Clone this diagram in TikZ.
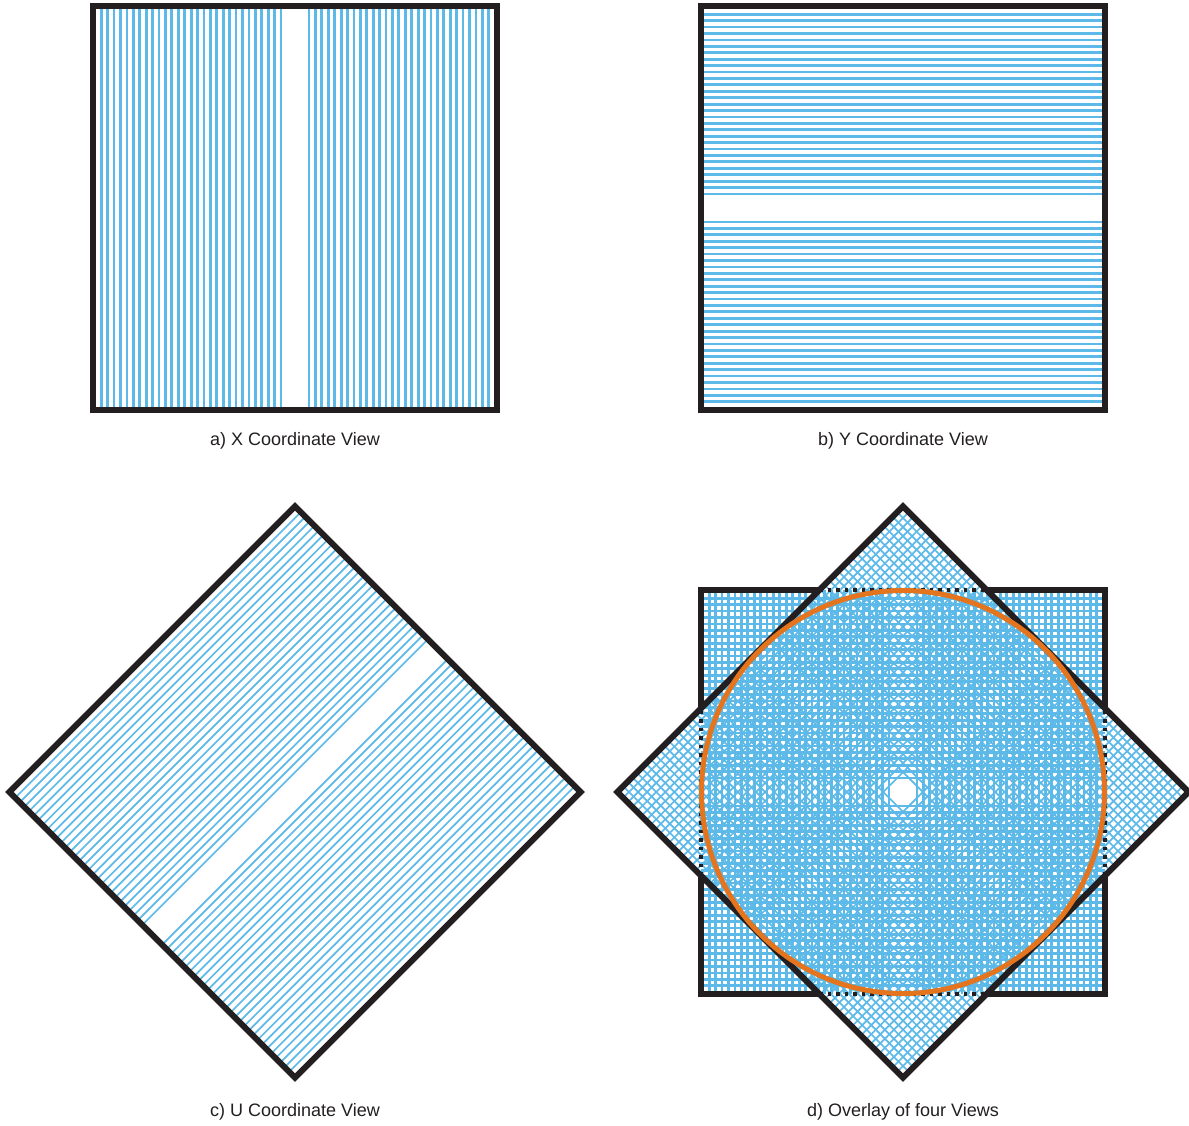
\documentclass[tikz,border=0pt]{standalone}
\usepackage{fontspec}
\setmainfont{Liberation Sans}
\definecolor{stripblue}{RGB}{92,185,232}
\definecolor{framedark}{RGB}{35,31,32}
\definecolor{ringorange}{RGB}{228,116,30}
\newcommand{\vstrips}[1]{%
  \foreach \k in {0,...,28}{%
    \pgfmathsetmacro\dd{14+6.42*\k}%
    \draw[#1] (\dd,-202) -- (\dd,202);
    \draw[#1] (-\dd,-202) -- (-\dd,202);
  }}
\newcommand{\hstrips}[1]{%
  \foreach \k in {0,...,28}{%
    \pgfmathsetmacro\dd{14+6.42*\k}%
    \draw[#1] (-202,\dd) -- (202,\dd);
    \draw[#1] (-202,-\dd) -- (202,-\dd);
  }}
\begin{document}
\begin{tikzpicture}[x=1pt,y=1pt,
  xstrip/.style={draw=stripblue,line width=2.8pt},
  ustrip/.style={draw=stripblue,line width=1.7pt},
  frame/.style={draw=framedark,line width=6pt},
  dotframe/.style={draw=framedark,line width=4pt,dash pattern=on 3.5pt off 5pt},
  ring/.style={draw=ringorange,line width=5pt},
  caption/.style={font=\fontsize{18}{20}\selectfont,text=framedark,inner sep=0pt}]
\useasboundingbox (0,0) rectangle (1189,-1126);
\fill[white] (0,0) rectangle (1189,-1126);

% a) X view
\begin{scope}[shift={(295,-208)}]
  \vstrips{xstrip}
  \draw[frame] (-202,-202) rectangle (202,202);
\end{scope}
\node[caption] (capA) at (295,-441) {a) X Coordinate View};

% b) Y view
\begin{scope}[shift={(903,-208)}]
  \hstrips{xstrip}
  \draw[frame] (-202,-202) rectangle (202,202);
\end{scope}
\node[caption] (capB) at (903,-441) {b) Y Coordinate View};

% c) U view
\begin{scope}[shift={(295,-792)},rotate=-45]
  \vstrips{ustrip}
  \draw[frame] (-202,-202) rectangle (202,202);
\end{scope}
\node[caption] (capC) at (295,-1112) {c) U Coordinate View};

% d) overlay
\begin{scope}[shift={(903,-792)}]
  \vstrips{xstrip}
  \hstrips{xstrip}
  \begin{scope}[rotate=-45]
    \vstrips{ustrip}
    \hstrips{ustrip}
  \end{scope}
  \draw[frame] (-83.67,202) -- (-202,202) -- (-202,83.67);
  \draw[frame] (83.67,202) -- (202,202) -- (202,83.67);
  \draw[frame] (-83.67,-202) -- (-202,-202) -- (-202,-83.67);
  \draw[frame] (83.67,-202) -- (202,-202) -- (202,-83.67);
  \draw[dotframe] (-83.67,202) -- (83.67,202);
  \draw[dotframe] (-83.67,-202) -- (83.67,-202);
  \draw[dotframe] (-202,-83.67) -- (-202,83.67);
  \draw[dotframe] (202,-83.67) -- (202,83.67);
  \begin{scope}[rotate=-45]
    \draw[frame] (-202,-202) rectangle (202,202);
  \end{scope}
  \draw[ring] (0,0) circle (201.5);
\end{scope}
\node[caption] (capD) at (903,-1112) {d) Overlay of four Views};
\end{tikzpicture}
\end{document}
